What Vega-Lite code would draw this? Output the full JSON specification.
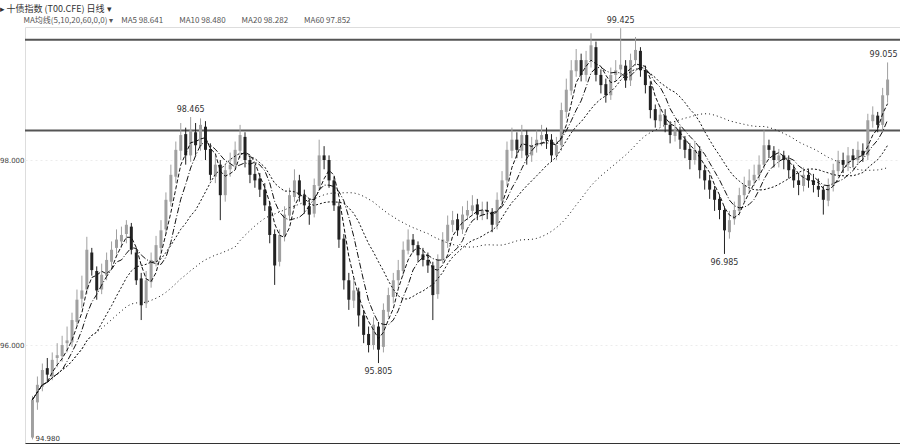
{
  "$schema": "https://vega.github.io/schema/vega-lite/v6.json",
  "autosize": {"type": "none"},
  "width": 875,
  "height": 416,
  "padding": {"left": 25, "right": 0, "top": 27, "bottom": 2},
  "background": "white",
  "title": {
    "text": "▸ 十债指数 (T00.CFE) 日线 ▾",
    "subtitle": "\u200b\u3000\u3000\u3000MA均线(5,10,20,60,0,0) ▾\u3000MA5 98.641\u3000\u3000MA10 98.480\u3000\u3000MA20 98.282\u3000\u3000MA60 97.852",
    "anchor": "start",
    "frame": "bounds",
    "font": "Noto Sans CJK SC",
    "fontSize": 9,
    "fontWeight": "normal",
    "color": "#333333",
    "subtitleFont": "Noto Sans CJK SC",
    "subtitleFontSize": 8,
    "subtitleColor": "#555555",
    "subtitlePadding": 3,
    "offset": -8
  },
  "datasets": {
    "k": [
      {"i":1,"o":95.00,"h":95.45,"l":94.98,"c":95.41},
      {"i":2,"o":95.38,"h":95.66,"l":95.30,"c":95.57},
      {"i":3,"o":95.55,"h":95.80,"l":95.50,"c":95.73},
      {"i":4,"o":95.75,"h":95.86,"l":95.60,"c":95.68},
      {"i":5,"o":95.66,"h":95.92,"l":95.62,"c":95.84},
      {"i":6,"o":95.86,"h":96.02,"l":95.76,"c":95.89},
      {"i":7,"o":95.88,"h":96.10,"l":95.82,"c":96.00},
      {"i":8,"o":96.02,"h":96.20,"l":95.92,"c":96.05},
      {"i":9,"o":96.03,"h":96.35,"l":95.98,"c":96.27},
      {"i":10,"o":96.25,"h":96.60,"l":96.20,"c":96.49},
      {"i":11,"o":96.50,"h":96.75,"l":96.40,"c":96.59},
      {"i":12,"o":96.60,"h":97.17,"l":96.55,"c":97.03},
      {"i":13,"o":97.00,"h":97.05,"l":96.75,"c":96.81},
      {"i":14,"o":96.80,"h":96.85,"l":96.49,"c":96.59},
      {"i":15,"o":96.60,"h":96.88,"l":96.55,"c":96.76},
      {"i":16,"o":96.75,"h":97.00,"l":96.70,"c":96.92},
      {"i":17,"o":96.90,"h":97.12,"l":96.85,"c":97.03},
      {"i":18,"o":97.05,"h":97.25,"l":96.98,"c":97.14},
      {"i":19,"o":97.12,"h":97.28,"l":97.05,"c":97.19},
      {"i":20,"o":97.20,"h":97.35,"l":97.10,"c":97.30},
      {"i":21,"o":97.28,"h":97.32,"l":96.98,"c":97.03},
      {"i":22,"o":97.00,"h":97.05,"l":96.65,"c":96.70},
      {"i":23,"o":96.72,"h":96.78,"l":96.27,"c":96.43},
      {"i":24,"o":96.45,"h":96.80,"l":96.40,"c":96.70},
      {"i":25,"o":96.68,"h":97.00,"l":96.62,"c":96.92},
      {"i":26,"o":96.90,"h":97.18,"l":96.85,"c":97.08},
      {"i":27,"o":97.05,"h":97.35,"l":97.00,"c":97.24},
      {"i":28,"o":97.25,"h":97.65,"l":97.20,"c":97.57},
      {"i":29,"o":97.55,"h":97.95,"l":97.50,"c":97.84},
      {"i":30,"o":97.82,"h":98.20,"l":97.75,"c":98.11},
      {"i":31,"o":98.10,"h":98.40,"l":98.00,"c":98.27},
      {"i":32,"o":98.28,"h":98.35,"l":97.95,"c":98.05},
      {"i":33,"o":98.05,"h":98.465,"l":97.98,"c":98.32},
      {"i":34,"o":98.30,"h":98.40,"l":98.05,"c":98.16},
      {"i":35,"o":98.15,"h":98.45,"l":98.10,"c":98.38},
      {"i":36,"o":98.36,"h":98.42,"l":98.00,"c":98.11},
      {"i":37,"o":98.12,"h":98.18,"l":97.78,"c":97.84},
      {"i":38,"o":97.82,"h":98.05,"l":97.75,"c":97.95},
      {"i":39,"o":97.95,"h":98.00,"l":97.35,"c":97.62},
      {"i":40,"o":97.62,"h":97.95,"l":97.55,"c":97.89},
      {"i":41,"o":97.90,"h":98.08,"l":97.82,"c":97.95},
      {"i":42,"o":97.95,"h":98.20,"l":97.90,"c":98.11},
      {"i":43,"o":98.10,"h":98.38,"l":98.02,"c":98.27},
      {"i":44,"o":98.25,"h":98.30,"l":97.92,"c":98.00},
      {"i":45,"o":98.00,"h":98.05,"l":97.75,"c":97.84},
      {"i":46,"o":97.85,"h":97.95,"l":97.70,"c":97.78},
      {"i":47,"o":97.80,"h":97.86,"l":97.60,"c":97.68},
      {"i":48,"o":97.68,"h":97.75,"l":97.45,"c":97.51},
      {"i":49,"o":97.50,"h":97.55,"l":97.10,"c":97.19},
      {"i":50,"o":97.20,"h":97.25,"l":96.65,"c":96.86},
      {"i":51,"o":96.90,"h":97.25,"l":96.85,"c":97.19},
      {"i":52,"o":97.18,"h":97.50,"l":97.12,"c":97.41},
      {"i":53,"o":97.40,"h":97.70,"l":97.35,"c":97.62},
      {"i":54,"o":97.60,"h":97.90,"l":97.55,"c":97.78},
      {"i":55,"o":97.78,"h":97.84,"l":97.55,"c":97.62},
      {"i":56,"o":97.62,"h":97.68,"l":97.42,"c":97.51},
      {"i":57,"o":97.50,"h":97.58,"l":97.30,"c":97.41},
      {"i":58,"o":97.42,"h":97.80,"l":97.38,"c":97.73},
      {"i":59,"o":97.72,"h":98.22,"l":97.68,"c":98.05},
      {"i":60,"o":98.05,"h":98.15,"l":97.90,"c":98.00},
      {"i":61,"o":98.00,"h":98.05,"l":97.70,"c":97.78},
      {"i":62,"o":97.78,"h":97.82,"l":97.45,"c":97.51},
      {"i":63,"o":97.50,"h":97.55,"l":97.05,"c":97.14},
      {"i":64,"o":97.15,"h":97.20,"l":96.60,"c":96.70},
      {"i":65,"o":96.70,"h":96.78,"l":96.38,"c":96.49},
      {"i":66,"o":96.48,"h":96.72,"l":96.40,"c":96.59},
      {"i":67,"o":96.58,"h":96.62,"l":96.20,"c":96.32},
      {"i":68,"o":96.32,"h":96.38,"l":96.02,"c":96.11},
      {"i":69,"o":96.12,"h":96.20,"l":95.92,"c":96.00},
      {"i":70,"o":96.00,"h":96.30,"l":95.95,"c":96.22},
      {"i":71,"o":96.20,"h":96.25,"l":95.805,"c":95.95},
      {"i":72,"o":95.98,"h":96.45,"l":95.92,"c":96.38},
      {"i":73,"o":96.36,"h":96.62,"l":96.30,"c":96.54},
      {"i":74,"o":96.52,"h":96.78,"l":96.45,"c":96.70},
      {"i":75,"o":96.70,"h":96.92,"l":96.62,"c":96.81},
      {"i":76,"o":96.80,"h":97.12,"l":96.75,"c":97.03},
      {"i":77,"o":97.02,"h":97.25,"l":96.98,"c":97.14},
      {"i":78,"o":97.14,"h":97.20,"l":97.00,"c":97.08},
      {"i":79,"o":97.08,"h":97.12,"l":96.90,"c":96.97},
      {"i":80,"o":96.98,"h":97.05,"l":96.85,"c":96.92},
      {"i":81,"o":96.92,"h":97.00,"l":96.78,"c":96.86},
      {"i":82,"o":96.86,"h":96.90,"l":96.27,"c":96.54},
      {"i":83,"o":96.55,"h":96.98,"l":96.50,"c":96.92},
      {"i":84,"o":96.92,"h":97.22,"l":96.88,"c":97.14},
      {"i":85,"o":97.12,"h":97.40,"l":97.05,"c":97.30},
      {"i":86,"o":97.30,"h":97.45,"l":97.22,"c":97.35},
      {"i":87,"o":97.36,"h":97.42,"l":97.18,"c":97.24},
      {"i":88,"o":97.25,"h":97.50,"l":97.20,"c":97.41},
      {"i":89,"o":97.40,"h":97.56,"l":97.35,"c":97.46},
      {"i":90,"o":97.45,"h":97.62,"l":97.40,"c":97.51},
      {"i":91,"o":97.52,"h":97.58,"l":97.35,"c":97.41},
      {"i":92,"o":97.40,"h":97.55,"l":97.35,"c":97.46},
      {"i":93,"o":97.46,"h":97.55,"l":97.36,"c":97.44},
      {"i":94,"o":97.44,"h":97.48,"l":97.22,"c":97.30},
      {"i":95,"o":97.30,"h":97.65,"l":97.25,"c":97.57},
      {"i":96,"o":97.56,"h":97.88,"l":97.50,"c":97.78},
      {"i":97,"o":97.78,"h":98.20,"l":97.72,"c":98.11},
      {"i":98,"o":98.10,"h":98.35,"l":98.02,"c":98.22},
      {"i":99,"o":98.22,"h":98.30,"l":98.02,"c":98.11},
      {"i":100,"o":98.10,"h":98.38,"l":98.02,"c":98.27},
      {"i":101,"o":98.27,"h":98.32,"l":97.95,"c":98.05},
      {"i":102,"o":98.05,"h":98.25,"l":97.98,"c":98.16},
      {"i":103,"o":98.15,"h":98.32,"l":98.08,"c":98.22},
      {"i":104,"o":98.22,"h":98.38,"l":98.15,"c":98.27},
      {"i":105,"o":98.28,"h":98.35,"l":98.12,"c":98.22},
      {"i":106,"o":98.22,"h":98.28,"l":97.98,"c":98.05},
      {"i":107,"o":98.05,"h":98.25,"l":98.00,"c":98.16},
      {"i":108,"o":98.16,"h":98.62,"l":98.10,"c":98.54},
      {"i":109,"o":98.52,"h":98.88,"l":98.45,"c":98.76},
      {"i":110,"o":98.75,"h":99.08,"l":98.70,"c":98.97},
      {"i":111,"o":98.96,"h":99.20,"l":98.90,"c":99.08},
      {"i":112,"o":99.08,"h":99.15,"l":98.85,"c":98.92},
      {"i":113,"o":98.92,"h":99.18,"l":98.85,"c":99.08},
      {"i":114,"o":99.08,"h":99.37,"l":99.00,"c":99.24},
      {"i":115,"o":99.22,"h":99.28,"l":98.85,"c":98.92},
      {"i":116,"o":98.92,"h":98.98,"l":98.72,"c":98.81},
      {"i":117,"o":98.82,"h":98.88,"l":98.62,"c":98.70},
      {"i":118,"o":98.70,"h":99.00,"l":98.65,"c":98.92},
      {"i":119,"o":98.92,"h":99.08,"l":98.85,"c":98.97},
      {"i":120,"o":98.98,"h":99.425,"l":98.90,"c":99.03},
      {"i":121,"o":99.02,"h":99.08,"l":98.78,"c":98.86},
      {"i":122,"o":98.86,"h":99.15,"l":98.80,"c":99.08},
      {"i":123,"o":99.08,"h":99.33,"l":99.02,"c":99.19},
      {"i":124,"o":99.18,"h":99.22,"l":98.90,"c":98.97},
      {"i":125,"o":98.97,"h":99.02,"l":98.72,"c":98.81},
      {"i":126,"o":98.80,"h":98.85,"l":98.45,"c":98.54},
      {"i":127,"o":98.55,"h":98.60,"l":98.35,"c":98.43},
      {"i":128,"o":98.42,"h":98.58,"l":98.36,"c":98.49},
      {"i":129,"o":98.48,"h":98.55,"l":98.30,"c":98.38},
      {"i":130,"o":98.38,"h":98.42,"l":98.18,"c":98.27},
      {"i":131,"o":98.26,"h":98.42,"l":98.20,"c":98.32},
      {"i":132,"o":98.32,"h":98.36,"l":98.12,"c":98.22},
      {"i":133,"o":98.22,"h":98.26,"l":98.02,"c":98.11},
      {"i":134,"o":98.12,"h":98.18,"l":97.90,"c":98.00},
      {"i":135,"o":98.00,"h":98.20,"l":97.95,"c":98.11},
      {"i":136,"o":98.10,"h":98.15,"l":97.80,"c":97.89},
      {"i":137,"o":97.89,"h":97.95,"l":97.68,"c":97.78},
      {"i":138,"o":97.78,"h":97.84,"l":97.58,"c":97.68},
      {"i":139,"o":97.68,"h":97.72,"l":97.45,"c":97.57},
      {"i":140,"o":97.58,"h":97.62,"l":97.36,"c":97.46},
      {"i":141,"o":97.46,"h":97.50,"l":96.985,"c":97.24},
      {"i":142,"o":97.22,"h":97.45,"l":97.15,"c":97.35},
      {"i":143,"o":97.36,"h":97.55,"l":97.30,"c":97.46},
      {"i":144,"o":97.45,"h":97.70,"l":97.40,"c":97.62},
      {"i":145,"o":97.62,"h":97.82,"l":97.55,"c":97.73},
      {"i":146,"o":97.72,"h":97.90,"l":97.65,"c":97.78},
      {"i":147,"o":97.78,"h":97.95,"l":97.72,"c":97.84},
      {"i":148,"o":97.84,"h":98.05,"l":97.78,"c":97.95},
      {"i":149,"o":97.95,"h":98.32,"l":97.90,"c":98.16},
      {"i":150,"o":98.16,"h":98.22,"l":98.02,"c":98.11},
      {"i":151,"o":98.10,"h":98.15,"l":97.92,"c":98.00},
      {"i":152,"o":98.00,"h":98.12,"l":97.92,"c":98.05},
      {"i":153,"o":98.05,"h":98.10,"l":97.90,"c":98.00},
      {"i":154,"o":98.00,"h":98.05,"l":97.80,"c":97.89},
      {"i":155,"o":97.90,"h":97.95,"l":97.70,"c":97.78},
      {"i":156,"o":97.78,"h":97.86,"l":97.62,"c":97.73},
      {"i":157,"o":97.72,"h":97.92,"l":97.66,"c":97.84},
      {"i":158,"o":97.84,"h":97.90,"l":97.70,"c":97.78},
      {"i":159,"o":97.78,"h":97.85,"l":97.65,"c":97.73},
      {"i":160,"o":97.72,"h":97.80,"l":97.60,"c":97.68},
      {"i":161,"o":97.68,"h":97.72,"l":97.41,"c":97.57},
      {"i":162,"o":97.56,"h":97.80,"l":97.50,"c":97.73},
      {"i":163,"o":97.72,"h":97.96,"l":97.66,"c":97.89},
      {"i":164,"o":97.88,"h":98.10,"l":97.82,"c":98.00},
      {"i":165,"o":98.00,"h":98.08,"l":97.86,"c":97.95},
      {"i":166,"o":97.95,"h":98.14,"l":97.88,"c":98.05},
      {"i":167,"o":98.05,"h":98.12,"l":97.92,"c":98.00},
      {"i":168,"o":98.00,"h":98.20,"l":97.95,"c":98.11},
      {"i":169,"o":98.10,"h":98.18,"l":97.98,"c":98.05},
      {"i":170,"o":98.05,"h":98.50,"l":98.00,"c":98.43},
      {"i":171,"o":98.42,"h":98.58,"l":98.35,"c":98.49},
      {"i":172,"o":98.48,"h":98.52,"l":98.30,"c":98.38},
      {"i":173,"o":98.38,"h":98.78,"l":98.32,"c":98.70},
      {"i":174,"o":98.70,"h":99.055,"l":98.62,"c":98.87}
    ],
    "levels": [{"level": 99.30}, {"level": 98.32}],
    "marks": [
      {"i": 33, "v": 98.465, "t": "98.465", "pos": "top"},
      {"i": 120, "v": 99.425, "t": "99.425", "pos": "top"},
      {"i": 174, "v": 99.055, "t": "99.055", "pos": "topend"},
      {"i": 71, "v": 95.805, "t": "95.805", "pos": "bottom"},
      {"i": 141, "v": 96.985, "t": "96.985", "pos": "bottom"},
      {"i": 1, "v": 94.98, "t": "94.980", "pos": "side"}
    ]
  },
  "encoding": {
    "x": {
      "field": "i",
      "type": "quantitative",
      "scale": {"domain": [0.5, 175.5], "nice": false, "zero": false},
      "axis": {"title": null, "labels": false, "ticks": false, "grid": false, "domainColor": "#333333", "domainWidth": 1}
    }
  },
  "layer": [
    {
      "data": {"name": "levels"},
      "mark": {"type": "rule", "color": "#555555", "strokeWidth": 2},
      "encoding": {
        "x": null,
        "y": {
          "field": "level",
          "type": "quantitative",
          "scale": {"domain": [94.941, 99.438], "nice": false, "zero": false},
          "axis": {
            "title": null,
            "values": [96, 98],
            "format": ".3f",
            "labelFontSize": 7,
            "labelFont": "DejaVu Sans",
            "labelColor": "#444444",
            "labelPadding": 1,
            "domain": false,
            "ticks": false,
            "grid": true,
            "gridColor": "#ececec",
            "gridDash": [2, 3]
          }
        }
      }
    },
    {
      "data": {"name": "k"},
      "mark": {"type": "rule", "strokeWidth": 1},
      "encoding": {
        "y": {"field": "l", "type": "quantitative"},
        "y2": {"field": "h"},
        "color": {"condition": {"test": "datum.c >= datum.o", "value": "#a0a0a0"}, "value": "#222222"}
      }
    },
    {
      "data": {"name": "k"},
      "mark": {"type": "bar", "size": 3, "orient": "vertical"},
      "encoding": {
        "y": {"field": "o", "type": "quantitative"},
        "y2": {"field": "c"},
        "color": {"condition": {"test": "datum.c >= datum.o", "value": "#a0a0a0"}, "value": "#222222"}
      }
    },
    {
      "data": {"name": "k"},
      "transform": [
        {"window": [{"op": "mean", "field": "c", "as": "MA5"}], "frame": [-3, 0], "sort": [{"field": "i"}]},
        {"window": [{"op": "mean", "field": "c", "as": "MA10"}], "frame": [-6, 0], "sort": [{"field": "i"}]},
        {"window": [{"op": "mean", "field": "c", "as": "MA20"}], "frame": [-13, 0], "sort": [{"field": "i"}]},
        {"window": [{"op": "mean", "field": "c", "as": "MA60"}], "frame": [-41, 0], "sort": [{"field": "i"}]},
        {"fold": ["MA5", "MA10", "MA20", "MA60"], "as": ["ma", "val"]}
      ],
      "mark": {"type": "line", "strokeWidth": 1, "color": "#111111"},
      "encoding": {
        "y": {"field": "val", "type": "quantitative"},
        "detail": {"field": "ma"},
        "strokeDash": {
          "field": "ma",
          "type": "nominal",
          "scale": {"domain": ["MA5", "MA10", "MA20", "MA60"], "range": [[4, 2], [6, 2, 1, 2], [2, 2], [1, 3]]},
          "legend": null
        }
      }
    },
    {
      "data": {"name": "marks"},
      "transform": [{"filter": "datum.pos === 'top'"}],
      "mark": {"type": "text", "baseline": "bottom", "dy": -3, "fontSize": 8, "font": "DejaVu Sans", "color": "#333333"},
      "encoding": {
        "y": {"field": "v", "type": "quantitative"},
        "text": {"field": "t"}
      }
    },
    {
      "data": {"name": "marks"},
      "transform": [{"filter": "datum.pos === 'topend'"}],
      "mark": {"type": "text", "baseline": "bottom", "align": "right", "dx": 10, "dy": -3, "fontSize": 8, "font": "DejaVu Sans", "color": "#333333"},
      "encoding": {
        "y": {"field": "v", "type": "quantitative"},
        "text": {"field": "t"}
      }
    },
    {
      "data": {"name": "marks"},
      "transform": [{"filter": "datum.pos === 'bottom'"}],
      "mark": {"type": "text", "baseline": "top", "dy": 5, "fontSize": 8, "font": "DejaVu Sans", "color": "#333333"},
      "encoding": {
        "y": {"field": "v", "type": "quantitative"},
        "text": {"field": "t"}
      }
    },
    {
      "data": {"name": "marks"},
      "transform": [{"filter": "datum.pos === 'side'"}],
      "mark": {"type": "text", "baseline": "middle", "align": "left", "dx": 3, "fontSize": 7, "font": "DejaVu Sans", "color": "#333333"},
      "encoding": {
        "y": {"field": "v", "type": "quantitative"},
        "text": {"field": "t"}
      }
    }
  ]
}
